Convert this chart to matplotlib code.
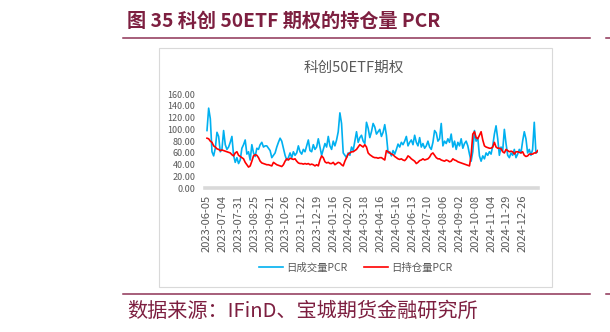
import matplotlib
matplotlib.use("Agg")
import matplotlib.pyplot as plt
from matplotlib.lines import Line2D
from matplotlib.patches import Rectangle
import numpy as np

plt.rcParams["font.family"] = ["Noto Sans CJK SC", "DejaVu Sans"]

# 数据：每两个交易日取一个值
vol_pcr = [
    98, 136, 118, 62, 55, 68, 95, 88, 62, 66,
    98, 74, 66, 70, 78, 88, 56, 44, 52, 42,
    48, 68, 74, 82, 58, 62, 48, 74, 60, 54,
    68, 66, 74, 78, 70, 72, 72, 68, 64, 52,
    56, 60, 70, 78, 85, 80, 68, 56, 48, 52,
    60, 52, 62, 56, 60, 72, 62, 58, 66, 62,
    72, 82, 64, 62, 74, 66, 70, 84, 70, 56,
    66, 76, 70, 88, 72, 66, 80, 72, 82, 96,
    128, 110, 60, 56, 52, 60, 56, 70, 64, 80,
    96, 78, 86, 90, 80, 76, 112, 102, 86, 96,
    110, 104, 92, 96, 100, 88, 95, 108, 90, 60,
    62, 55, 64, 58, 66, 75, 70, 78, 74, 80,
    88, 72, 78, 82, 74, 90, 78, 72, 86, 70,
    76, 68, 72, 80, 70, 66, 78, 98, 94, 80,
    84, 110, 72, 80, 76, 84, 78, 92, 70, 80,
    66, 78, 72, 84, 68, 76, 80, 72, 58, 46,
    62, 98, 80, 86, 55, 46, 55, 50, 60, 56,
    62, 58, 72, 92, 106, 84, 56, 70, 64, 100,
    76, 56, 52, 60, 56, 66, 52, 58, 66, 60,
    80, 96, 84, 60, 66, 56, 66, 112, 60, 62,
]
oi_pcr = [
    85, 84, 80, 78, 72, 70, 67, 66, 64, 65,
    64, 63, 62, 61, 60, 57, 55, 60, 62, 56,
    54, 52, 50, 44, 40, 36, 38, 46, 55, 57,
    56, 52, 46, 43, 42, 41, 40, 40, 39, 38,
    44, 42, 40, 39, 38, 37, 40, 46, 50, 48,
    51, 50, 49, 50, 46, 43, 42, 42, 41, 42,
    41, 42, 40, 41, 40, 38, 40, 38, 48, 55,
    52, 45, 43, 44, 42, 42, 44, 40, 42, 44,
    43, 40, 38, 46, 52, 58, 60, 62, 62, 64,
    66, 70, 74, 72, 70, 74, 70, 60, 57, 55,
    53, 52, 52, 51, 52, 52, 50, 48, 64, 62,
    60, 58, 57, 54, 52, 50, 49, 50, 48, 47,
    50, 55, 53, 50, 48, 46, 42, 44, 47, 48,
    50, 48, 49, 50, 53, 58, 60, 56, 52, 50,
    50, 48, 47, 46, 48, 47, 45, 46, 50, 48,
    47, 45, 44, 43, 42, 41, 40, 39, 38, 56,
    92, 96, 86, 84, 90, 96, 82, 72, 70, 69,
    68, 68, 70, 78, 70, 68, 68, 67, 62, 60,
    66, 64, 62, 63, 62, 58, 62, 62, 61, 60,
    62, 56, 54, 55, 58, 58, 58, 60, 60, 64,
]
date_labels = [
    "2023-06-05", "2023-07-04", "2023-07-31", "2023-08-25", "2023-09-21",
    "2023-10-26", "2023-11-22", "2023-12-19", "2024-01-16", "2024-02-20",
    "2024-03-18", "2024-04-16", "2024-05-16", "2024-06-13", "2024-07-10",
    "2024-08-06", "2024-09-02", "2024-10-08", "2024-11-04", "2024-11-29",
    "2024-12-26",
]
series_names = ["日成交量PCR", "日持仓量PCR"]

W, H = 610, 332
maroon = "#7D1F40"
gray = "#595959"


def fx(x):
    return x / W


def fy(y):
    return 1 - y / H


fig = plt.figure(figsize=(W / 100, H / 100), dpi=100)

# 页眉标题与分隔线
fig.text(fx(127), fy(21), "图 35 科创 50ETF 期权的持仓量 PCR", fontsize=13.8,
         fontweight="bold", color=maroon, va="center", ha="left")
for y in (38, 294):
    fig.add_artist(Line2D([fx(123), fx(590)], [fy(y), fy(y)], color="#8E3356", lw=1.1))
    fig.add_artist(Line2D([fx(606), fx(610)], [fy(y), fy(y)], color="#8E3356", lw=1.1))
fig.text(fx(127), fy(311), "数据来源：IFinD、宝城期货金融研究所", fontsize=14.5,
         color=maroon, va="center", ha="left")

# 图表外框
fig.add_artist(Rectangle((fx(159), fy(287)), fx(552) - fx(159), fy(48) - fy(287),
                         transform=fig.transFigure, fill=False, edgecolor="#D9D9D9", lw=0.8))
fig.text(fx(354), fy(68), "科创50ETF期权", fontsize=10.5, color=gray, ha="center", va="center")

ax = fig.add_axes([fx(205), fy(188.3), fx(538) - fx(205), fy(94) - fy(188.3)])
x = np.arange(len(vol_pcr)) * 2
ax.plot(x, vol_pcr, color="#00B0F0", lw=1.2, label=series_names[0])
ax.plot(x, oi_pcr, color="#FF0000", lw=1.2, label=series_names[1])

ax.set_ylim(0, 160)
ax.set_xlim(-2.4, 398.5)
ax.set_yticks(np.arange(0, 161, 20))
ax.set_yticklabels([f"{v:.2f}" for v in np.arange(0, 161, 20)])
ax.set_xticks(np.arange(len(date_labels)) * 19)
ax.set_xticklabels(date_labels, rotation=90)
ax.tick_params(axis="y", length=0, pad=7, labelsize=6.5, labelcolor=gray)
ax.tick_params(axis="x", length=0, pad=4.5, labelsize=8, labelcolor=gray)
for s in ("top", "right", "left"):
    ax.spines[s].set_visible(False)
ax.spines["bottom"].set_color("#D9D9D9")
ax.spines["bottom"].set_linewidth(2.6)
ax.patch.set_alpha(0)

fig.legend(loc="center", bbox_to_anchor=(fx(356), fy(268)), ncol=2, frameon=False,
           fontsize=7.5, labelcolor=gray, handlelength=2.3, handletextpad=0.3,
           columnspacing=1.6)

fig.savefig("out.png", dpi=100)
